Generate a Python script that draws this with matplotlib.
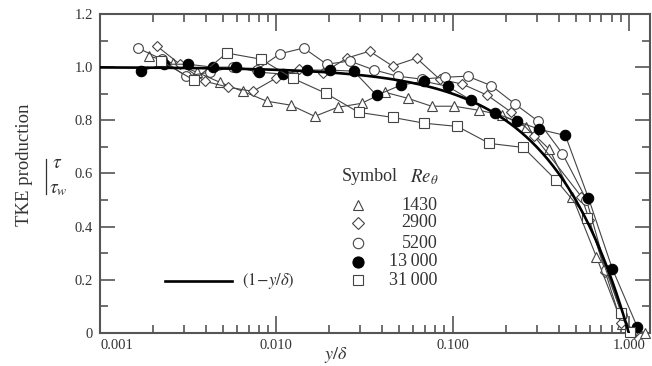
import numpy as np
import matplotlib
matplotlib.use("Agg")
import matplotlib.pyplot as plt
from matplotlib.ticker import FixedLocator, NullFormatter

plt.rcParams['font.family'] = ['Liberation Serif', 'DejaVu Serif']
plt.rcParams['mathtext.fontset'] = 'stix'

# --- data --- #
x_1430 = [0.001896, 0.002593, 0.003546, 0.004786, 0.006458, 0.008836, 0.01208, 0.01652,
          0.02230, 0.03050, 0.04117, 0.05559, 0.07603, 0.1026, 0.1404, 0.1920, 0.2626,
          0.3544, 0.4786, 0.6544, 0.9188, 1.240]
y_1430 = [1.042, 1.015, 0.981, 0.943, 0.909, 0.872, 0.857, 0.815, 0.849, 0.864, 0.906,
          0.883, 0.853, 0.853, 0.838, 0.819, 0.774, 0.691, 0.513, 0.287, 0.034, 0.0]

x_2900 = [0.002104, 0.002840, 0.003935, 0.005311, 0.007362, 0.009936, 0.01341, 0.01834,
          0.02508, 0.03385, 0.04571, 0.06251, 0.08440, 0.1139, 0.1579, 0.2159, 0.2914,
          0.5381, 0.5973, 0.7358, 0.9068, 1.0744]
y_2900 = [1.079, 1.011, 0.947, 0.925, 0.909, 0.958, 0.992, 0.977, 1.034, 1.060, 1.004,
          1.034, 0.955, 0.936, 0.894, 0.830, 0.740, 0.513, 0.426, 0.230, 0.038, 0.0]

x_5200 = [0.001636, 0.002237, 0.003071, 0.004200, 0.005667, 0.007753, 0.01047, 0.01431,
          0.01932, 0.02609, 0.03567, 0.04880, 0.06674, 0.09010, 0.1216, 0.1663, 0.2275,
          0.3071, 0.4200, 0.5742, 0.7454, 0.9188, 1.0466]
y_5200 = [1.072, 1.030, 0.966, 0.981, 1.000, 0.990, 1.050, 1.072, 1.011, 1.023, 0.990,
          0.966, 0.955, 0.962, 0.966, 0.930, 0.860, 0.796, 0.675, 0.502, 0.238, 0.068, 0.004]

x_13000 = [0.001707, 0.002305, 0.003152, 0.004367, 0.005895, 0.007959, 0.01089, 0.01489,
           0.02009, 0.02749, 0.03710, 0.05074, 0.06850, 0.09370, 0.1281, 0.1752, 0.2335,
           0.3112, 0.4367, 0.5895, 0.8062, 1.117]
y_13000 = [0.985, 1.011, 1.011, 1.000, 1.000, 0.981, 0.974, 0.989, 0.989, 0.985, 0.894,
           0.932, 0.947, 0.928, 0.875, 0.826, 0.796, 0.766, 0.743, 0.509, 0.242, 0.023]

x_31000 = [0.00222, 0.00341, 0.00524, 0.00817, 0.01240, 0.01907, 0.02933, 0.0457, 0.0693,
           0.1066, 0.162, 0.252, 0.388, 0.582, 0.907, 1.02]
y_31000 = [1.023, 0.951, 1.053, 1.030, 0.958, 0.902, 0.830, 0.811, 0.789, 0.777, 0.713,
           0.698, 0.574, 0.434, 0.075, 0.004]

legend_labels = ['1430', '2900', '5200', '13\u2009000', '31\u2009000']
xticks = [0.001, 0.01, 0.1, 1.0]
xtick_labels = ['0.001', '0.010', '0.100', '1.000']
yticks = [0, 0.2, 0.4, 0.6, 0.8, 1.0, 1.2]
ytick_labels = ['0', '0.2', '0.4', '0.6', '0.8', '1.0', '1.2']

# --- figure --- #
fig = plt.figure(figsize=(6.52, 3.66), dpi=100)
ax = fig.add_axes([0.1534, 0.0902, 0.8436, 0.8716])

# 1 - y/delta reference line
x_line = np.logspace(-3, 0, 300)
ax.plot(x_line, 1 - x_line, color='black', lw=1.9, zorder=4)

ec = '#444444'
series = [
    (x_1430, y_1430, '^', 'white', 7),
    (x_2900, y_2900, 'D', 'white', 5.5),
    (x_5200, y_5200, 'o', 'white', 7),
    (x_13000, y_13000, 'o', 'black', 7.5),
    (x_31000, y_31000, 's', 'white', 7),
]
for xs, ys, m, fc, ms in series:
    ax.plot(xs, ys, color=ec, lw=0.8, marker=m, ms=ms, mfc=fc,
            mec='black' if fc == 'black' else ec, mew=0.8, zorder=3, clip_on=False)

ax.set_xscale('log')
ax.set_xlim(0.001, 1.32)
ax.set_ylim(0, 1.2)

ax.xaxis.set_major_locator(FixedLocator(xticks))
ax.set_xticklabels(xtick_labels)
minors = [k * 10.0 ** e for e in (-3, -2, -1) for k in range(2, 10)]
ax.xaxis.set_minor_locator(FixedLocator(minors))
ax.xaxis.set_minor_formatter(NullFormatter())
ax.set_yticks(yticks)
ax.set_yticklabels(ytick_labels)
ax.set_yticks(np.arange(0.1, 1.2, 0.2), minor=True)

spine_c = '#555555'
for s in ax.spines.values():
    s.set_color(spine_c)
    s.set_linewidth(1.5)
ax.tick_params(which='both', direction='in', top=True, right=True, color=spine_c,
               labelsize=10.5, labelcolor='#333333', width=1.2)
ax.tick_params(which='major', length=12)
ax.tick_params(which='minor', length=6)
ax.tick_params(axis='y', which='major', length=11, pad=5)
ax.tick_params(axis='x', pad=4)
ax.get_xticklabels()[0].set_horizontalalignment('left')

# axis labels
ax.set_xlabel(r'$y/\delta$', fontsize=13, color='#333333')
ax.xaxis.set_label_coords(0.429, -0.069)
ax.xaxis.label.set_va('center')
fig.text(0.038, 0.55, 'TKE production', rotation=90, fontsize=13.5, color='#333333',
         ha='center', va='center')
fig.text(0.088, 0.553, r'$\tau$', fontsize=14, color='#333333', ha='center', va='center')
fig.text(0.090, 0.482, r'$\tau_w$', fontsize=14, color='#333333', ha='center', va='center')
fig.add_artist(plt.Line2D([0.071, 0.071], [0.47, 0.565], color='#333333', lw=0.9))

# legend, drawn by hand
tr = ax.transAxes
ax.text(0.44, 0.489, 'Symbol', transform=tr, fontsize=13, color='#333333', va='center')
ax.text(0.564, 0.489, r'$Re_\theta$', transform=tr, fontsize=13.5, color='#333333', va='center')
rows = [0.401, 0.345, 0.282, 0.223, 0.166]
for (xs, ys, m, fc, ms), lab, yr in zip(series, legend_labels, rows):
    ax.plot([0.469], [yr], transform=tr, marker=m, ms=ms + 0.5, mfc=fc,
            mec='black' if fc == 'black' else ec, mew=0.8, ls='none', clip_on=False)
    ax.text(0.613, yr, lab, transform=tr, fontsize=13, color='#333333', ha='right',
            va='center')
ax.plot([0.118, 0.24], [0.163, 0.163], transform=tr, color='black', lw=1.9)
ax.text(0.258, 0.163, r'$(1\!-\!y/\delta)$', transform=tr, fontsize=12, color='#333333',
        va='center')

fig.savefig('out.png', dpi=100)
